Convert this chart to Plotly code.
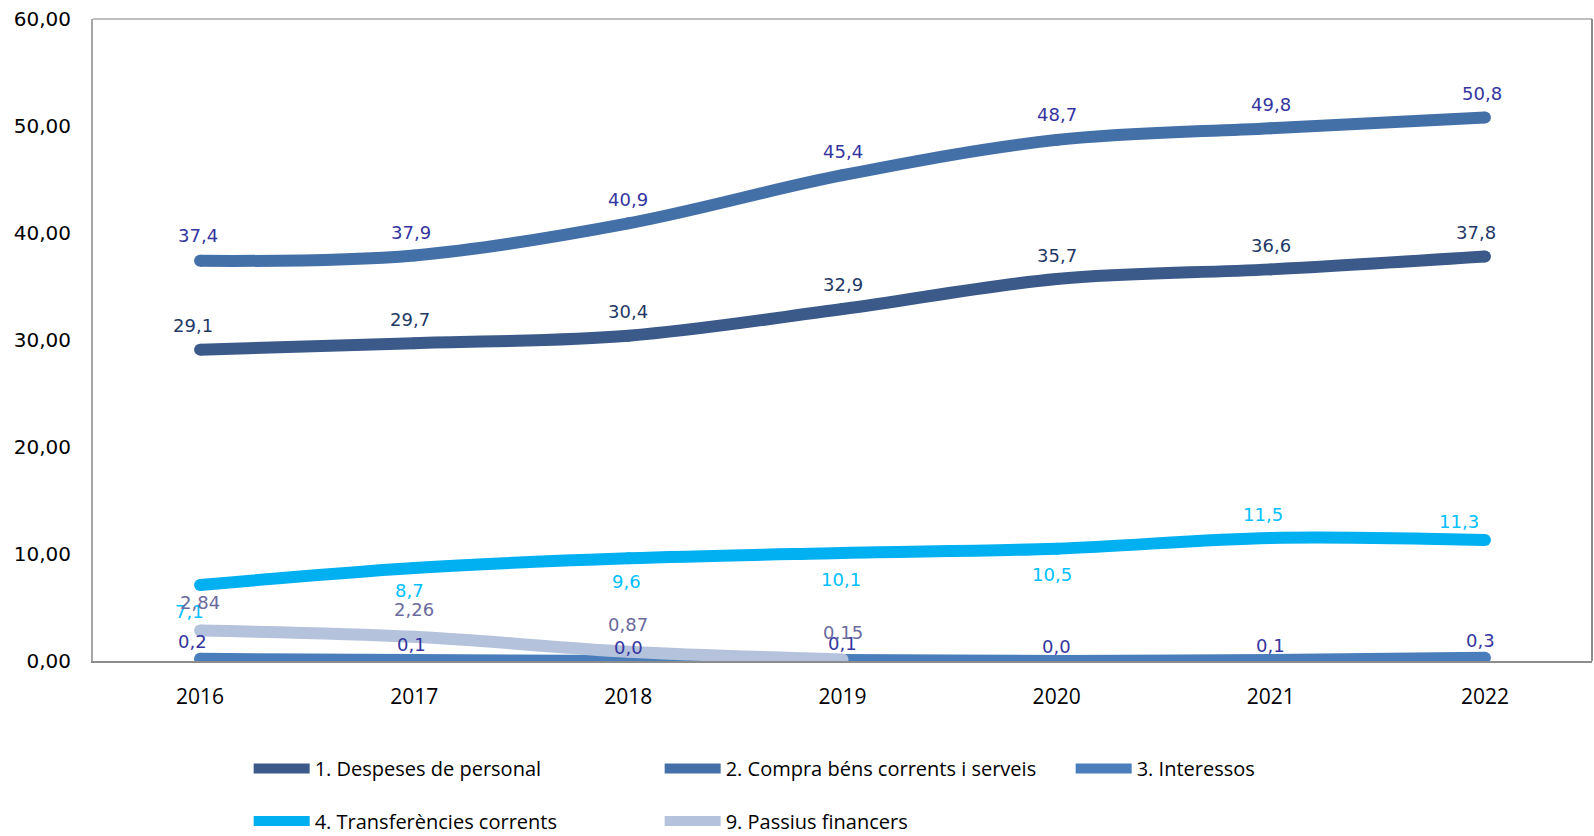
import plotly.graph_objects as go

years = ["2016", "2017", "2018", "2019", "2020", "2021", "2022"]
names = ["1. Despeses de personal", "2. Compra béns corrents i serveis", "3. Interessos",
         "4. Transferències corrents", "9. Passius financers"]

personal = [29.1, 29.7, 30.4, 32.9, 35.7, 36.6, 37.8]
compra = [37.4, 37.9, 40.9, 45.4, 48.7, 49.8, 50.8]
interessos = [0.2, 0.1, 0.0, 0.1, 0.0, 0.1, 0.3]
transferencies = [7.1, 8.7, 9.6, 10.1, 10.5, 11.5, 11.3]
passius_years = ["2016", "2017", "2018", "2019"]
passius = [2.84, 2.26, 0.87, 0.15]

series = [
    dict(name=names[0], x=years, y=personal, color="#3B5A8A", lab="#1F3A66", dec=1,
         shift=[24]*7, xs=[-7, -4, 0, 0, 0, 0, -9], legend="legend"),
    dict(name=names[1], x=years, y=compra, color="#4470A8", lab="#3535A0", dec=1,
         shift=[25, 23, 24, 24, 25, 24, 24], xs=[-2, -3, 0, 0, 0, 0, -3], legend="legend"),
    dict(name=names[2], x=years, y=interessos, color="#4A7EBB", lab="#3535A0", dec=1,
         shift=[17, 15, 14, 16, 15, 14, 17], xs=[-8, -3, 0, 0, 0, 0, -4], legend="legend"),
    dict(name=names[3], x=years, y=transferencies, color="#00B0F0", lab="#00C0FF", dec=1,
         shift=[-26, -23, -23, -27, -26, 23, 19], xs=[-11, -5, -2, -2, -5, -8, -26], legend="legend2"),
    dict(name=names[4], x=passius_years, y=passius, color="#B4C2DC", lab="#6A6A9E", dec=2,
         shift=[28, 27, 27, 27], xs=[0, 0, 0, 0], legend="legend2"),
]

LW = 12
fig = go.Figure()
annotations = []
for s in series:
    fig.add_trace(go.Scatter(
        x=s["x"], y=s["y"], name=s["name"], mode="lines",
        line=dict(color=s["color"], width=LW, shape="spline", smoothing=1.0),
        legend=s["legend"], hoverinfo="skip"))
    fig.add_trace(go.Scatter(
        x=s["x"], y=s["y"], mode="markers", showlegend=False,
        marker=dict(color=s["color"], size=LW, line=dict(width=0)), hoverinfo="skip"))
    for xv, yv, sh, xs in zip(s["x"], s["y"], s["shift"], s["xs"]):
        txt = f"{yv:.{s['dec']}f}".replace(".", ",")
        annotations.append(dict(x=years.index(xv), y=yv, xref="x", yref="y", text=txt, showarrow=False,
                                yshift=sh, xshift=xs,
                                font=dict(family="DejaVu Sans", size=18, color=s["lab"])))

fig.update_layout(
    width=1594, height=836,
    margin=dict(l=93, r=2, t=19, b=175),
    paper_bgcolor="white", plot_bgcolor="white",
    separators=",.",
    annotations=annotations,
    xaxis=dict(type="category", categoryorder="array", categoryarray=years, range=[-0.5, 6.5],
               showgrid=False, zeroline=False, showline=True, linecolor="#8C8C8C", linewidth=2,
               ticks="", tickfont=dict(family="Open Sans", size=21, color="black"),
               ticklabelstandoff=16, automargin=False),
    yaxis=dict(range=[0, 60], dtick=10, tickformat=".2f", showgrid=False, zeroline=False,
               showline=True, linecolor="#A6A6A6", linewidth=2, ticks="",
               tickfont=dict(family="DejaVu Sans", size=20, color="black"),
               ticklabelstandoff=16, automargin=False),
    legend=dict(orientation="h", xref="container", yref="container", x=0.156, y=1 - 768.6 / 836,
                xanchor="left", yanchor="middle", itemwidth=56, entrywidth=340,
                font=dict(family="Open Sans", size=20, color="black"), bgcolor="rgba(0,0,0,0)"),
    legend2=dict(orientation="h", xref="container", yref="container", x=0.156, y=1 - 821 / 836,
                 xanchor="left", yanchor="middle", itemwidth=56, entrywidth=340,
                 font=dict(family="Open Sans", size=20, color="black"), bgcolor="rgba(0,0,0,0)"),
    shapes=[
        dict(type="line", xref="paper", yref="paper", x0=0, x1=1, y0=1, y1=1,
             line=dict(color="#BFBFBF", width=2)),
        dict(type="line", xref="paper", yref="paper", x0=1, x1=1, y0=0, y1=1,
             line=dict(color="#8C8C8C", width=2)),
    ],
)

fig.write_html("out.html", config={"displayModeBar": False},
               post_script="document.body.style.margin='0';document.body.style.overflow='hidden';")
